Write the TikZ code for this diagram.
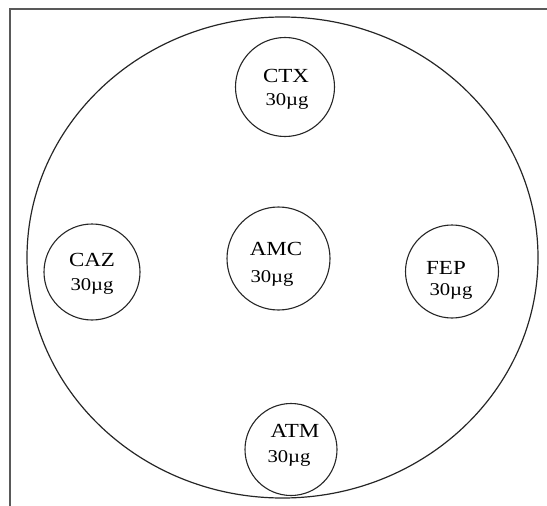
\documentclass[tikz,border=0pt]{standalone}
\usepackage{fontspec}
\setmainfont[FakeStretch=1.15]{Liberation Serif}
\usepackage{tikz}

\begin{document}
\begin{tikzpicture}[x=1pt,y=-1pt,
  disc/.style={draw=black!85,circle,inner sep=0pt,line width=1.1pt},
  drug/.style={anchor=base,inner sep=0pt,font=\fontsize{20}{20}\selectfont},
  dose/.style={anchor=base,inner sep=0pt,font=\fontsize{18}{18}\selectfont}]
% 1 unit = 1px of the 547x506 page, y runs downwards
\useasboundingbox (0,0) rectangle (547,506);
\draw[black!65,line width=1.3pt] (10,506) -- (10,9) -- (547,9);
\draw[black!85,line width=1.2pt] (282.5,257.5) ellipse [x radius=255.5, y radius=240.5];
\foreach \n/\x/\y/\d in {ctx/285/87/99, amc/278.5/258.5/103, caz/92/272/96, fep/452/271.5/93, atm/291/449.5/92}
  {\node[disc,minimum size=\d pt] (\n) at (\x,\y) {};}
\foreach \n/\t/\x/\a/\u/\b in {ctx/CTX/286/82/287/105, amc/AMC/276/255/272/282, caz/CAZ/92/266/92/290,
    fep/FEP/446/274/451/295, atm/ATM/295/437/289/462}
  {\node[drug] (\n-name) at (\x,\a) {\t}; \node[dose] (\n-dose) at (\u,\b) {30µg};}
\end{tikzpicture}
\end{document}
